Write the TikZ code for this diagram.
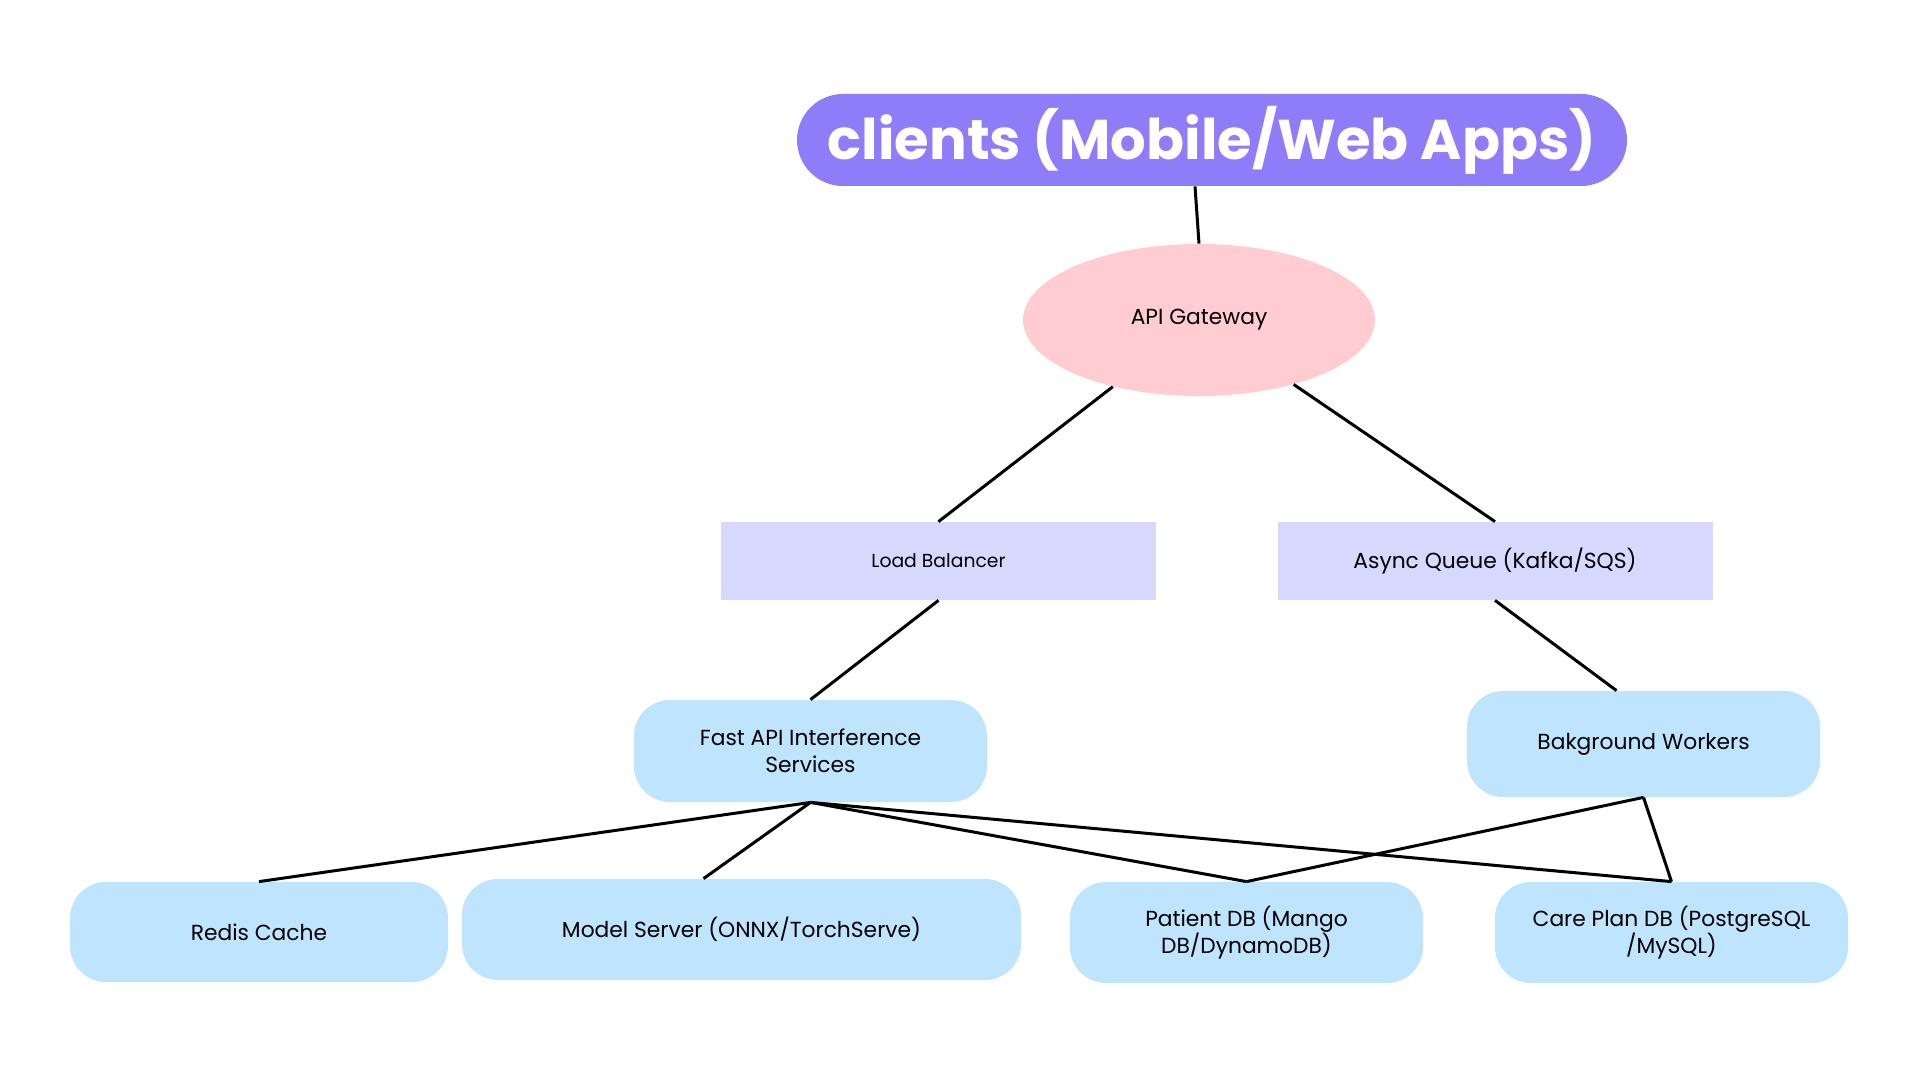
\documentclass[tikz,border=0pt]{standalone}
\usepackage{fontspec}
\setmainfont{Poppins}
\usetikzlibrary{shapes.geometric,positioning,calc}

\definecolor{clientpurple}{RGB}{143,124,248}
\definecolor{gatewaypink}{RGB}{255,204,210}
\definecolor{queuelilac}{RGB}{214,217,253}
\definecolor{servblue}{RGB}{191,228,253}

\begin{document}
\begin{tikzpicture}[x=0.5pt, y=-0.5pt,
  lbl/.style={font=\fontsize{10.9}{13.5}\selectfont, align=center, text=black},
  pill/.style={fill=servblue, rounded corners=18pt, lbl, inner sep=0pt},
  flat/.style={fill=queuelilac, lbl, inner sep=0pt, minimum width=217.5pt, minimum height=39pt},
  link/.style={line width=1.5pt, black}]
  \useasboundingbox (0,0) rectangle (1920,1080);
  % top tier
  \node[fill=clientpurple, rounded corners=23pt, minimum width=415pt, minimum height=46pt,
        text=white, font=\fontsize{28}{34}\selectfont\bfseries] (clients) at (1212,140)
        {clients (Mobile/Web Apps)};
  \node[ellipse, fill=gatewaypink, minimum width=176pt, minimum height=76pt, inner sep=0pt,
        lbl] (api) at (1199,320) {API Gateway};
  % routing tier
  \node[flat, font=\fontsize{9.4}{12}\selectfont] (lb) at (938.5,561) {Load Balancer};
  \node[flat] (queue) at (1495,561) {Async Queue (Kafka/SQS)};
  % services
  \node[pill, minimum width=176.5pt, minimum height=51pt] (fastapi) at (810.5,751)
        {Fast API Interference\\Services};
  \node[pill, minimum width=176.5pt, minimum height=53pt] (workers) at (1643.5,744)
        {Bakground Workers};
  % storage tier
  \node[pill, minimum width=189pt, minimum height=50pt] (redis) at (259,932) {Redis Cache};
  \node[pill, minimum width=279.5pt, minimum height=50.5pt] (model) at (741.5,929.5)
        {Model Server (ONNX/TorchServe)};
  \node[pill, minimum width=176.5pt, minimum height=50.5pt] (patient) at (1246.5,932.5)
        {Patient DB (Mango\\DB/DynamoDB)};
  \node[pill, minimum width=176.5pt, minimum height=50.5pt] (care) at (1671.5,932.5)
        {Care Plan DB (PostgreSQL\\/MySQL)};
  % connectors
  \draw[link] (api.north) -- ([xshift=-2pt]api.north |- clients.south);
  \draw[link] (lb.north) -- (api);
  \draw[link] (queue.north) -- (api);
  \draw[link] (lb.south) -- (fastapi.north);
  \draw[link] (queue.south) -- ([xshift=-13.5pt]workers.north);
  \foreach \t in {redis.north, patient.north, care.north}
    \draw[link] (fastapi.south) -- (\t);
  \draw[link] (fastapi.south) -- ([xshift=-19pt]model.north);
  \draw[link] (workers.south) -- (patient.north);
  \draw[link] (workers.south) -- (care.north);
\end{tikzpicture}
\end{document}
